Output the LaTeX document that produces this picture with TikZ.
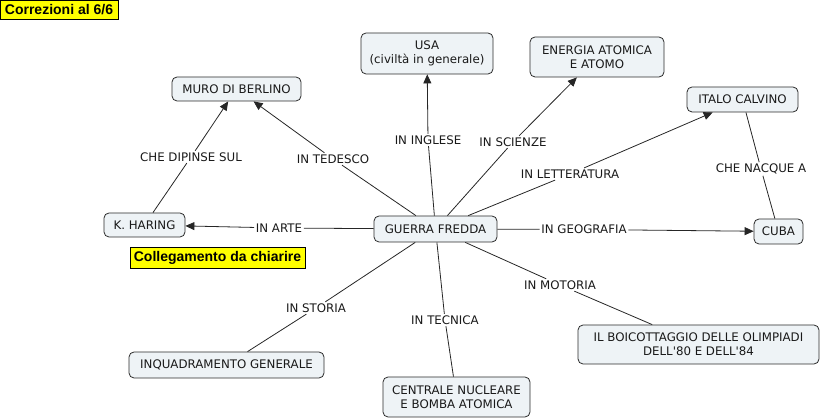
\documentclass[tikz,border=0pt]{standalone}
\usepackage{fontspec}
\setmainfont{DejaVu Sans}[Ligatures=TeXOff]
\newfontfamily\arialfont{Liberation Sans}
\usetikzlibrary{arrows.meta}
\definecolor{boxfill}{HTML}{EEF3F6}
\definecolor{boxline}{HTML}{2B2B2B}
\definecolor{notefill}{HTML}{FFFF00}
\tikzset{
  concept/.style={draw=boxline, fill=boxfill, rounded corners=5pt, line width=0.8pt,
    align=center, font=\fontsize{11.8}{14}\selectfont, inner sep=2pt, text=black!90},
  linkword/.style={fill=white, inner sep=1.5pt, font=\fontsize{11.8}{14}\selectfont, text=black!90},
  note/.style={draw=black, fill=notefill, line width=0.8pt, inner sep=2pt,
    font=\arialfont\bfseries\fontsize{14}{16}\selectfont},
  link/.style={draw=black!85, line width=0.8pt},
  arr/.style={link, -{Triangle[length=9pt,width=8pt]}}
}
\begin{document}
\begin{tikzpicture}[x=1pt,y=-1pt]
\useasboundingbox (0,0) rectangle (822,419);

\node[note, minimum width=118pt, minimum height=19pt] (corr) at (59,9.5) {Correzioni al 6/6};
\node[note, minimum width=175pt, minimum height=21pt] (coll) at (217.5,257.5) {Collegamento da chiarire};

\node[concept, minimum width=129pt, minimum height=24pt] (muro) at (236.5,89) {MURO DI BERLINO};
\node[concept, minimum width=132pt, minimum height=41pt] (usa) at (427,53.5) {USA\\(civiltà in generale)};
\node[concept, minimum width=134pt, minimum height=40pt] (energia) at (597,57) {ENERGIA ATOMICA\\E ATOMO};
\node[concept, minimum width=111pt, minimum height=25pt] (calvino) at (742.5,99.5) {ITALO CALVINO};
\node[concept, minimum width=81pt, minimum height=24pt] (haring) at (144.5,225) {K. HARING};
\node[concept, minimum width=123pt, minimum height=26pt] (guerra) at (435.5,229) {GUERRA FREDDA};
\node[concept, minimum width=49pt, minimum height=25pt] (cuba) at (778.5,231.5) {CUBA};
\node[concept, minimum width=195pt, minimum height=26pt] (inq) at (226.5,365) {INQUADRAMENTO GENERALE};
\node[concept, minimum width=147pt, minimum height=40pt] (centrale) at (456.5,397) {CENTRALE NUCLEARE\\E BOMBA ATOMICA};
\node[concept, minimum width=241pt, minimum height=39pt] (boic) at (698.5,344.5) {IL BOICOTTAGGIO DELLE OLIMPIADI\\DELL'80 E DELL'84};

\node[linkword] (ldip) at (191,157) {CHE DIPINSE SUL};
\node[linkword] (lted) at (333,159) {IN TEDESCO};
\node[linkword] (ling) at (428,140) {IN INGLESE};
\node[linkword] (lsci) at (513,142) {IN SCIENZE};
\node[linkword] (llet) at (570,174) {IN LETTERATURA};
\node[linkword] (lnac) at (761,169) {CHE NACQUE A};
\node[linkword] (lart) at (279,228) {IN ARTE};
\node[linkword] (lgeo) at (584,229.5) {IN GEOGRAFIA};
\node[linkword] (lmot) at (560,285) {IN MOTORIA};
\node[linkword] (lsto) at (316,308) {IN STORIA};
\node[linkword] (ltec) at (445,320) {IN TECNICA};

\draw[link] (guerra) -- (lted);  \draw[arr] (lted) -- (muro);
\draw[link] (guerra) -- (ling);  \draw[arr] (ling) -- (usa);
\draw[link] (guerra) -- (lsci);  \draw[arr] (lsci) -- (energia);
\draw[link] (guerra) -- (llet);  \draw[arr] (llet) -- (calvino);
\draw[link] (guerra) -- (lart);  \draw[arr] (lart) -- (haring);
\draw[link] (guerra) -- (lgeo);  \draw[arr] (lgeo) -- (cuba);
\draw[link] (guerra) -- (lmot);  \draw[link] (lmot) -- (boic);
\draw[link] (guerra) -- (lsto);  \draw[link] (lsto) -- (inq);
\draw[link] (guerra) -- (ltec);  \draw[link] (ltec) -- (centrale);
\draw[link] (haring) -- (ldip);  \draw[arr] (ldip) -- (muro);
\draw[link] (calvino) -- (lnac); \draw[link] (lnac) -- (cuba);
\end{tikzpicture}
\end{document}
